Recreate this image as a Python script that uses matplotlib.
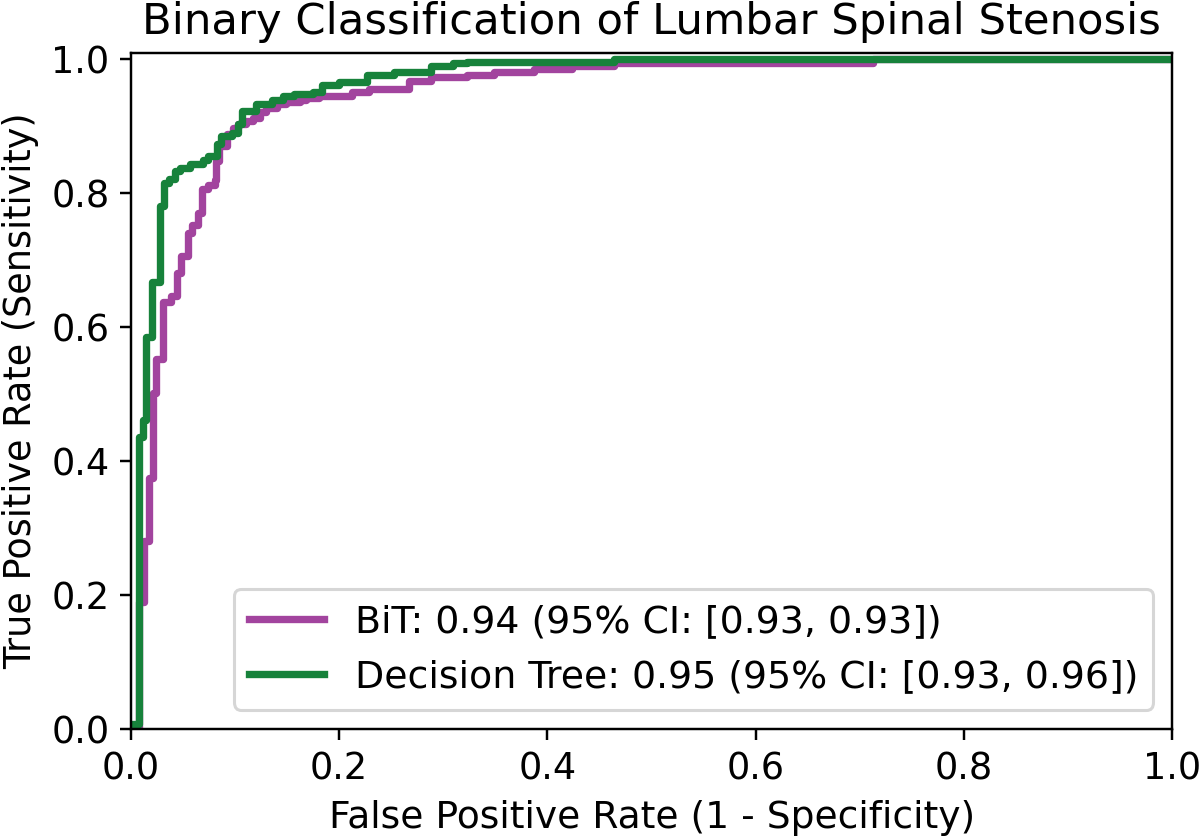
import numpy as np
import matplotlib
matplotlib.use('Agg')
import matplotlib.pyplot as plt

# --- ROC step corners (fpr, tpr) ---
bit_fpr = [0.0, 0.008, 0.0125, 0.017, 0.021, 0.024, 0.031, 0.039, 0.044, 0.0486,
           0.055, 0.059, 0.0645, 0.068, 0.074, 0.0805, 0.082, 0.085, 0.092, 0.098,
           0.103, 0.111, 0.117, 0.124, 0.130, 0.140, 0.149, 0.162, 0.168, 0.181,
           0.212, 0.229, 0.267, 0.288, 0.323, 0.349, 0.387, 0.424, 0.464, 0.713, 1.0]
bit_tpr = [0.0, 0.19, 0.28, 0.375, 0.502, 0.552, 0.637, 0.646, 0.681, 0.706,
           0.741, 0.753, 0.771, 0.806, 0.813, 0.820, 0.848, 0.870, 0.888, 0.898,
           0.903, 0.908, 0.912, 0.921, 0.928, 0.933, 0.936, 0.939, 0.942, 0.946,
           0.951, 0.955, 0.967, 0.973, 0.977, 0.981, 0.986, 0.990, 0.995, 1.0, 1.0]

dt_fpr = [0.0, 0.008, 0.012, 0.015, 0.020, 0.028, 0.032, 0.037, 0.042, 0.047,
          0.057, 0.069, 0.074, 0.083, 0.087, 0.097, 0.103, 0.107, 0.120, 0.136,
          0.146, 0.157, 0.175, 0.184, 0.200, 0.227, 0.253, 0.288, 0.309, 0.323,
          0.464, 1.0]
dt_tpr = [0.008, 0.436, 0.462, 0.586, 0.667, 0.781, 0.816, 0.822, 0.833, 0.838,
          0.844, 0.849, 0.856, 0.873, 0.886, 0.890, 0.903, 0.923, 0.934, 0.940,
          0.945, 0.949, 0.952, 0.961, 0.966, 0.977, 0.981, 0.990, 0.994, 0.996,
          1.0, 1.0]

labels = ['BiT: 0.94 (95% CI: [0.93, 0.93])',
          'Decision Tree: 0.95 (95% CI: [0.93, 0.96])']
colors = ['#a2449e', '#17823b']

plt.rcParams['font.size'] = 12

fig, ax = plt.subplots(figsize=(1200 / 220, 836 / 220), dpi=220)
fig.subplots_adjust(left=0.109, right=0.977, bottom=0.128, top=0.937)

ax.plot(bit_fpr, bit_tpr, drawstyle='steps-post', lw=2.4, color=colors[0], label=labels[0])
ax.plot(dt_fpr, dt_tpr, drawstyle='steps-post', lw=2.4, color=colors[1], label=labels[1])

ax.set_xlim(0.0, 1.0)
ax.set_ylim(0.0, 1.01)
ax.tick_params(labelsize=12)
ax.set_xlabel('False Positive Rate (1 - Specificity)', fontsize=12.3)
ax.set_ylabel('True Positive Rate (Sensitivity)', fontsize=12)
ax.set_title('Binary Classification of Lumbar Spinal Stenosis', fontsize=14.2)
ax.legend(loc='lower right', fontsize=12.4)

fig.savefig('out.png', dpi=220)
